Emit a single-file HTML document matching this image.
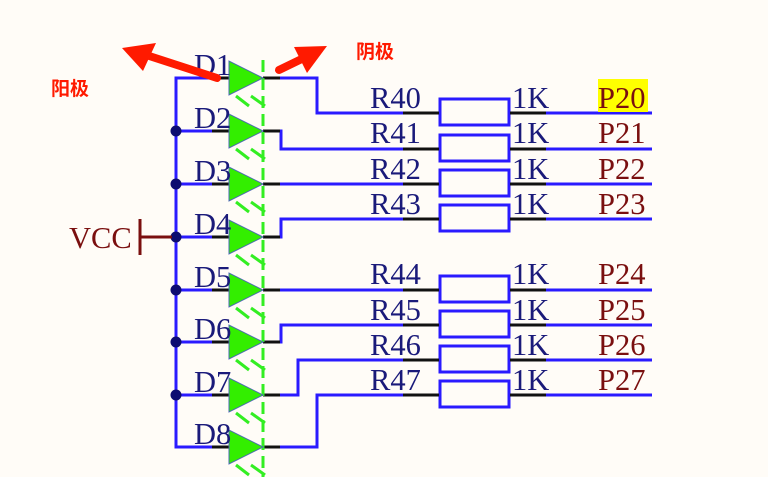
<!DOCTYPE html>
<html><head><meta charset="utf-8"><style>
html,body{margin:0;padding:0;background:#fffcf7;}
svg{display:block}
.t{font-family:"Liberation Serif",serif;font-size:30.5px;}
.n{fill:#1a1a7a}.p{fill:#7a0f0f}
.cn{font-family:"Liberation Sans","Noto Sans CJK SC",sans-serif;font-size:19px;font-weight:bold;fill:#ff1a00}
</style></head><body>
<svg width="768" height="477" viewBox="0 0 768 477" xmlns="http://www.w3.org/2000/svg">
<rect width="768" height="477" fill="#fffcf7"/>
<g stroke="#2a1aff" stroke-width="3" fill="none">
<path d="M212 78 H176 V447 H212"/>
<line x1="176" y1="131" x2="212" y2="131"/>
<line x1="176" y1="184" x2="212" y2="184"/>
<line x1="176" y1="237" x2="212" y2="237"/>
<line x1="176" y1="290" x2="212" y2="290"/>
<line x1="176" y1="342" x2="212" y2="342"/>
<line x1="176" y1="395" x2="212" y2="395"/>
<path d="M280 78 H317 V113 H403"/>
<path d="M280 131 H281 V149 H403"/>
<path d="M280 184 H403"/>
<path d="M280 237 H281 V219 H403"/>
<path d="M280 290 H403"/>
<path d="M280 342 H281 V325 H403"/>
<path d="M280 395 H298 V360 H403"/>
<path d="M280 447 H317 V395 H403"/>
<line x1="546" y1="113" x2="652" y2="113"/>
<line x1="546" y1="149" x2="652" y2="149"/>
<line x1="546" y1="184" x2="652" y2="184"/>
<line x1="546" y1="219" x2="652" y2="219"/>
<line x1="546" y1="290" x2="652" y2="290"/>
<line x1="546" y1="325" x2="652" y2="325"/>
<line x1="546" y1="360" x2="652" y2="360"/>
<line x1="546" y1="395" x2="652" y2="395"/>
<rect x="440" y="99" width="69" height="26"/>
<rect x="440" y="135" width="69" height="26"/>
<rect x="440" y="170" width="69" height="26"/>
<rect x="440" y="205" width="69" height="26"/>
<rect x="440" y="276" width="69" height="26"/>
<rect x="440" y="311" width="69" height="26"/>
<rect x="440" y="346" width="69" height="26"/>
<rect x="440" y="381" width="69" height="26"/>
</g>
<rect x="598" y="79" width="50" height="33" fill="#ffff00"/>
<g stroke="#111" stroke-width="3">
<path d="M212 78H229M263 78H280M212 131H229M263 131H280M212 184H229M263 184H280M212 237H229M263 237H280M212 290H229M263 290H280M212 342H229M263 342H280M212 395H229M263 395H280M212 447H229M263 447H280"/>
<path d="M403 113H439M510 113H546M403 149H439M510 149H546M403 184H439M510 184H546M403 219H439M510 219H546M403 290H439M510 290H546M403 325H439M510 325H546M403 360H439M510 360H546M403 395H439M510 395H546"/>
</g>
<g fill="#0d0d70">
<circle cx="176" cy="131" r="5.5"/><circle cx="176" cy="184" r="5.5"/><circle cx="176" cy="237" r="5.5"/>
<circle cx="176" cy="290" r="5.5"/><circle cx="176" cy="342" r="5.5"/><circle cx="176" cy="395" r="5.5"/>
</g>
<line x1="263" y1="60" x2="263" y2="477" stroke="#33ee22" stroke-width="3" stroke-dasharray="12,6"/>
<g fill="#33ee00" stroke="#4a6ab0" stroke-width="1">
<polygon points="229,61 229,95 263,78"/>
<polygon points="229,114 229,148 263,131"/>
<polygon points="229,167 229,201 263,184"/>
<polygon points="229,220 229,254 263,237"/>
<polygon points="229,273 229,307 263,290"/>
<polygon points="229,325 229,359 263,342"/>
<polygon points="229,378 229,412 263,395"/>
<polygon points="229,430 229,464 263,447"/>
</g>
<g stroke="#33ee22" stroke-width="3">
<path d="M236 96l13 10M251 96l14 10M236 149l13 10M251 149l14 10M236 202l13 10M251 202l14 10M236 255l13 10M251 255l14 10M236 308l13 10M251 308l14 10M236 360l13 10M251 360l14 10M236 413l13 10M251 413l14 10M236 465l13 10M251 465l14 10"/>
</g>
<g stroke="#7a0f0f" stroke-width="3"><line x1="140" y1="219" x2="140" y2="255"/><line x1="140" y1="237" x2="172" y2="237"/></g>
<text class="t p" x="69" y="248">VCC</text>
<g class="t n">
<text x="194" y="75">D1</text><text x="194" y="128">D2</text><text x="194" y="181">D3</text><text x="194" y="234">D4</text>
<text x="194" y="287">D5</text><text x="194" y="339">D6</text><text x="194" y="392">D7</text><text x="194" y="444">D8</text>
<text x="370" y="108">R40</text><text x="370" y="143">R41</text><text x="370" y="179">R42</text><text x="370" y="214">R43</text>
<text x="370" y="284">R44</text><text x="370" y="320">R45</text><text x="370" y="355">R46</text><text x="370" y="390">R47</text>
<text x="512" y="108">1K</text><text x="512" y="143">1K</text><text x="512" y="179">1K</text><text x="512" y="214">1K</text>
<text x="512" y="284">1K</text><text x="512" y="320">1K</text><text x="512" y="355">1K</text><text x="512" y="390">1K</text>
</g>
<g class="t p">
<text x="598" y="108">P20</text><text x="598" y="143">P21</text><text x="598" y="179">P22</text><text x="598" y="214">P23</text>
<text x="598" y="284">P24</text><text x="598" y="320">P25</text><text x="598" y="355">P26</text><text x="598" y="390">P27</text>
</g>
<g stroke="#ff1a00" stroke-width="8" stroke-linecap="round" fill="none">
<line x1="217" y1="78" x2="140" y2="53"/>
<line x1="279" y1="70" x2="312" y2="54"/>
</g>
<g fill="#ff1a00">
<polygon points="122,48 156,43 143,71"/>
<polygon points="327,46 294,47 307,73"/>
</g>
<text class="cn" x="51" y="95">阳极</text>
<text class="cn" x="356" y="58">阴极</text>
</svg>
</body></html>
